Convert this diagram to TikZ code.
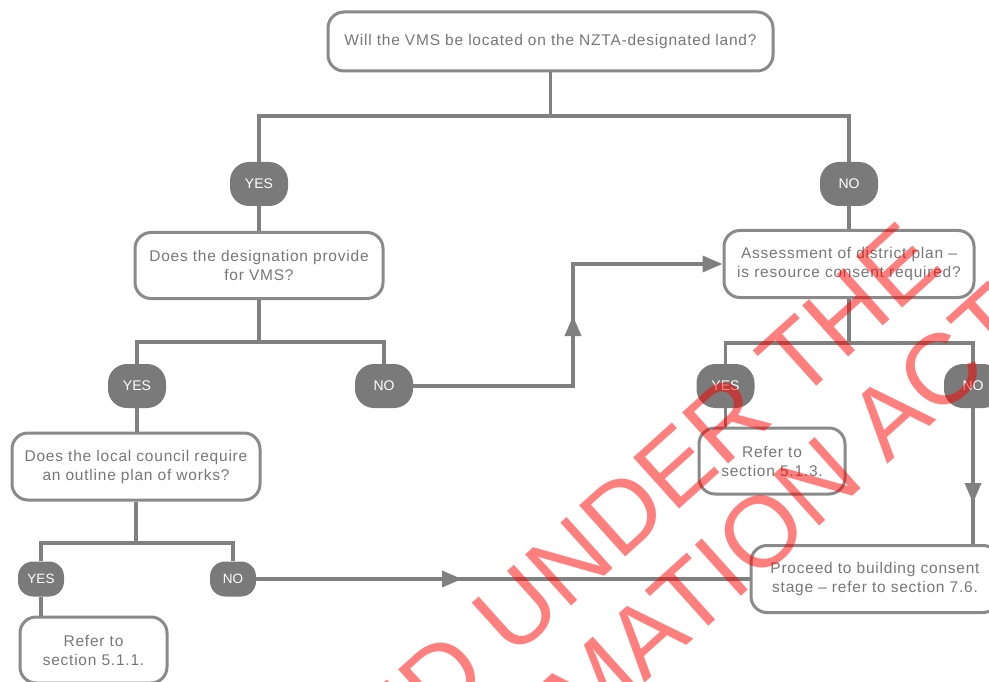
\documentclass[tikz,border=0pt]{standalone}
\usepackage{fontspec}
\setmainfont{Liberation Sans}
\newfontfamily\boxfont{Liberation Sans}[LetterSpace=5]
\usetikzlibrary{arrows.meta}
\definecolor{linegray}{HTML}{808080}
\definecolor{boxgray}{HTML}{8A8A8A}
\definecolor{pillgray}{HTML}{7A7A7A}
\definecolor{txtgray}{HTML}{777777}
\begin{document}
\begin{tikzpicture}[x=1pt,y=-1pt,
  qbox/.style={draw=boxgray, line width=3pt, rounded corners=16pt, fill=white, text=txtgray,
    font=\boxfont\fontsize{15.5}{19}\selectfont, align=center, inner sep=0pt},
  pill/.style={fill=pillgray, draw=none, rounded corners=19pt, text=white,
    font=\fontsize{14}{16}\selectfont, minimum width=58pt, minimum height=44pt, inner sep=0pt},
  spill/.style={pill, rounded corners=15pt, minimum width=46pt, minimum height=35pt,
    font=\fontsize{13.5}{15}\selectfont},
  conn/.style={draw=linegray, line width=3.5pt},
  tip/.style={conn, -{Triangle[length=20pt,width=16pt]}},
  wmark/.style={rotate=42, anchor=base east, text=red, text opacity=0.5,
    font=\fontsize{100}{100}\selectfont, inner sep=0pt},
]
\useasboundingbox (0,0) rectangle (989,682);
\fill[white] (0,0) rectangle (989,682);

% nodes
\node[qbox, minimum width=445pt, minimum height=59pt] (q1) at (550.5,41.5)
  {Will the VMS be located on the NZTA-designated land?};
\node[pill] (y1) at (259,184) {YES};
\node[pill] (n1) at (849,184) {NO};
\node[qbox, minimum width=248pt, minimum height=66pt] (q2) at (259,265.5)
  {Does the designation provide\\for VMS?};
\node[pill] (y2) at (137,386) {YES};
\node[pill] (n2) at (384,386) {NO};
\node[qbox, minimum width=250pt, minimum height=67pt] (q3) at (849,264)
  {Assessment of district plan –\\is resource consent required?};
\node[pill] (y3) at (725.5,386) {YES};
\node[pill] (n3) at (973,386) {NO};
\node[qbox, minimum width=146pt, minimum height=66pt] (r3) at (772,461)
  {Refer to\\section 5.1.3.};
\node[qbox, minimum width=248pt, minimum height=67pt] (r4) at (875,579)
  {Proceed to building consent\\stage – refer to section 7.6.};
\node[qbox, minimum width=248pt, minimum height=67pt] (q4) at (136,466.5)
  {Does the local council require\\an outline plan of works?};
\node[spill] (y4) at (41,579) {YES};
\node[spill] (n4) at (233,579) {NO};
\node[qbox, minimum width=147pt, minimum height=66pt] (r1) at (93.5,650)
  {Refer to\\section 5.1.1.};

% junction points
\coordinate (b1) at (550.5,116);
\coordinate (b2) at (259,342);
\coordinate (b3) at (849,343);
\coordinate (b4) at (136,543);
\coordinate (k1) at (573,386);
\coordinate (k2) at (573,264);
\coordinate (m1) at (573,316);
\coordinate (m2) at (973,503);
\coordinate (m3) at (462,579);

% connectors
\draw[conn] (q1.south) -- (b1);
\draw[conn] (y1.north) |- (b1) -| (n1.north);
\draw[conn] (y1.south) -- (q2.north);
\draw[conn] (q2.south) -- (b2);
\draw[conn] (y2.north) |- (b2) -| (n2.north);
\draw[tip] (n2.east) -- (k1) -- (k2) -- (q3.west);
\draw[tip] (k1) -- (m1);
\draw[conn] (n1.south) -- (q3.north);
\draw[conn] (q3.south) -- (b3);
\draw[conn] (y3.north) |- (b3) -| (n3.north);
\draw[conn] (y3.south) -- (y3.south |- r3.north);
\draw[conn] (n3.south) -- (n3.south |- r4.north);
\draw[tip] (n3.south) -- (m2);
\draw[conn] (y2.south) -- (y2.south |- q4.north);
\draw[conn] (q4.south) -- (b4);
\draw[conn] (y4.north) |- (b4) -| (n4.north);
\draw[conn] (n4.east) -- (r4.west);
\draw[tip] (n4.east) -- (m3);
\draw[conn] (y4.south) -- (y4.south |- r1.north);

% watermark
\begin{scope}
\clip (0,0) rectangle (989,682);
\node[wmark] (wm1) at (946,269) {RELEASED UNDER THE};
\node[wmark] (wm2) at (1036,331) {OFFICIAL INFORMATION ACT};
\end{scope}
\end{tikzpicture}
\end{document}
